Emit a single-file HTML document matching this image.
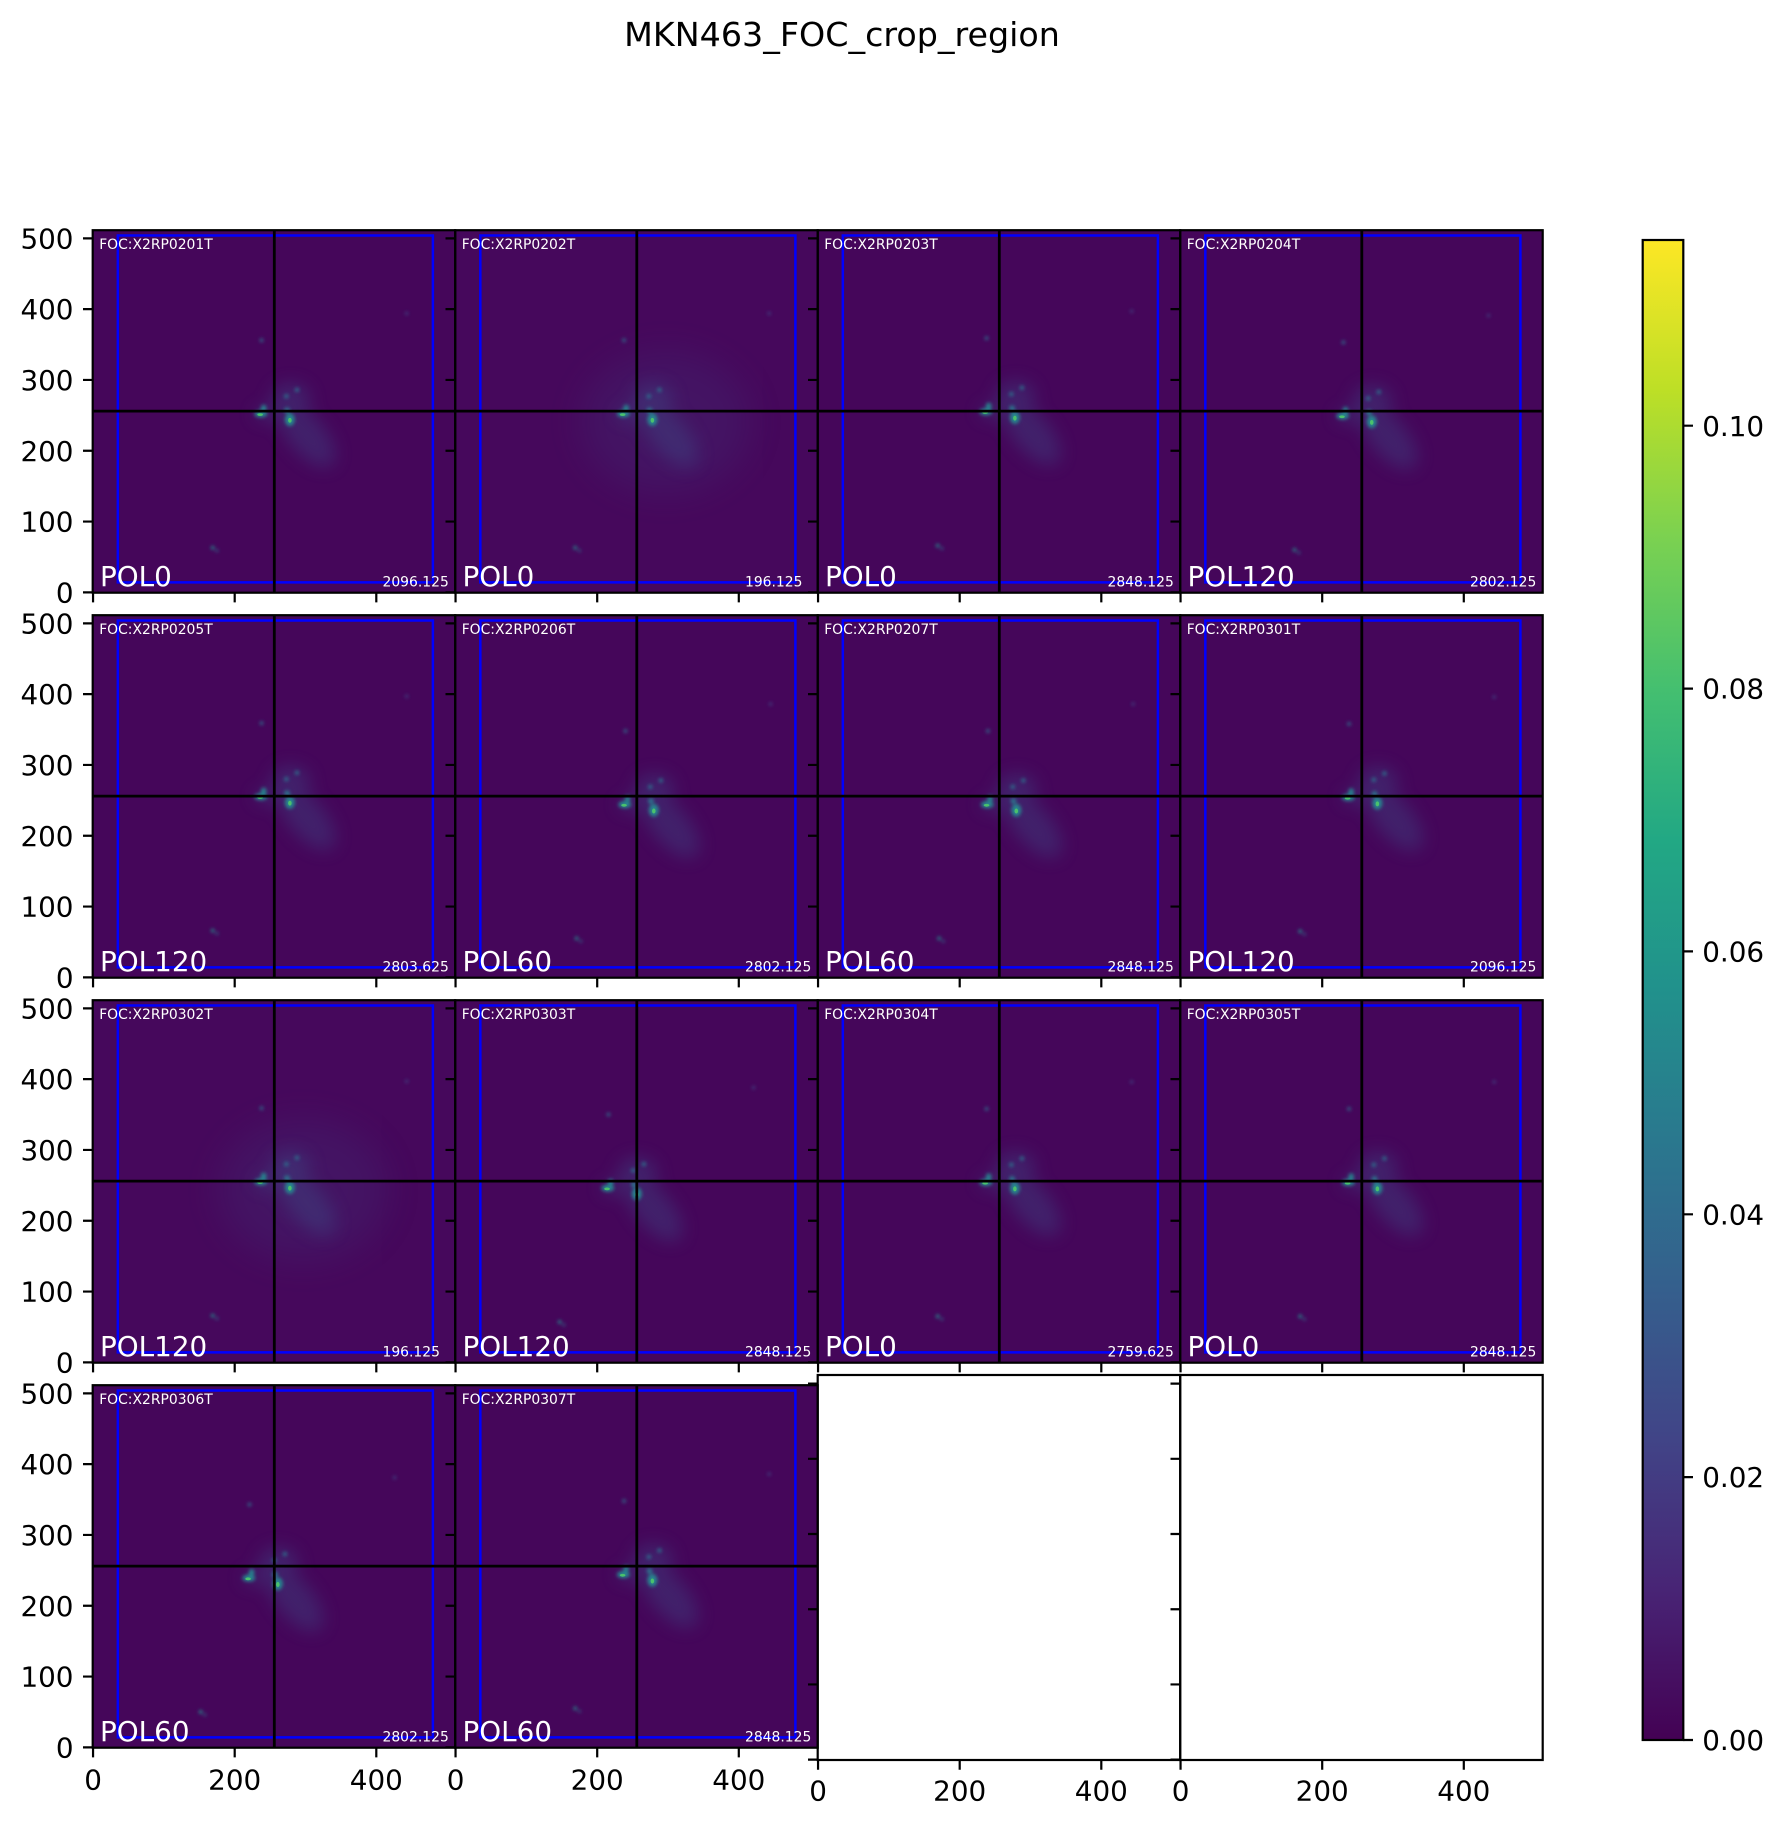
<!DOCTYPE html>
<html>
<head>
<meta charset="utf-8">
<style>
  html,body{margin:0;padding:0;background:#ffffff;}
  svg{display:block;}
  text{font-family:"DejaVu Sans","Liberation Sans",sans-serif;}
  .bl{fill:none;stroke:#0000ff;stroke-width:2.5px;vector-effect:non-scaling-stroke;}
  .ch{fill:none;stroke:#000;stroke-width:2.8px;vector-effect:non-scaling-stroke;}
  .sp{fill:none;stroke:#000;stroke-width:2.2px;}
  .s{fill:#ffffff;font-size:13.9px;}
  .p{fill:#ffffff;font-size:27.8px;}
  .t{fill:#000;font-size:27.8px;}
  .ty{fill:#000;font-size:27.8px;text-anchor:end;}
  .tx{fill:#000;font-size:27.8px;text-anchor:middle;}
</style>
</head>
<body>
<svg width="1784" height="1827" viewBox="0 0 1784 1827" xmlns="http://www.w3.org/2000/svg">
<defs>
  <clipPath id="cp" clipPathUnits="userSpaceOnUse"><rect x="-0.5" y="-0.5" width="512" height="512"/></clipPath>
  <filter id="bl8" x="-100%" y="-100%" width="300%" height="300%"><feGaussianBlur stdDeviation="12"/></filter>
  <filter id="bl3" x="-100%" y="-100%" width="300%" height="300%"><feGaussianBlur stdDeviation="2.5"/></filter>
  <filter id="bl20" x="-100%" y="-100%" width="300%" height="300%"><feGaussianBlur stdDeviation="25"/></filter>
  <linearGradient id="vir" x1="0" y1="1" x2="0" y2="0">
    <stop offset="0" stop-color="#440154"/>
    <stop offset="0.1" stop-color="#482475"/>
    <stop offset="0.2" stop-color="#414487"/>
    <stop offset="0.3" stop-color="#355f8d"/>
    <stop offset="0.4" stop-color="#2a788e"/>
    <stop offset="0.5" stop-color="#21918c"/>
    <stop offset="0.6" stop-color="#22a884"/>
    <stop offset="0.7" stop-color="#44bf70"/>
    <stop offset="0.8" stop-color="#7ad151"/>
    <stop offset="0.9" stop-color="#bddf26"/>
    <stop offset="1" stop-color="#fde725"/>
  </linearGradient>
  <g id="gal">
    <g filter="url(#bl8)" fill="#3b528b" opacity="0.35">
      <ellipse cx="45" cy="-28" rx="55" ry="26" transform="rotate(-50 45 -28)"/>
      <ellipse cx="22" cy="24" rx="28" ry="22"/>
      <ellipse cx="-8" cy="2" rx="22" ry="10"/>
    </g>
    <g filter="url(#bl3)">
      <ellipse cx="-20" cy="2" rx="9" ry="5" fill="#25848e"/>
      <ellipse cx="-16" cy="10" rx="4" ry="5" fill="#25848e"/>
      <ellipse cx="21" cy="-6" rx="7" ry="9" fill="#25848e"/>
      <ellipse cx="17" cy="7" rx="4" ry="4" fill="#2a788e"/>
      <circle cx="16" cy="27" r="3" fill="#2c728e"/>
      <circle cx="31" cy="36" r="3" fill="#2c728e"/>
      <circle cx="-19" cy="106" r="2.5" fill="#2c728e"/>
      <circle cx="-88" cy="-187" r="2.5" fill="#21918c"/>
      <circle cx="-82" cy="-191" r="1.8" fill="#2c728e"/>
      <circle cx="186" cy="144" r="2" fill="#3b528b"/>
    </g>
    <ellipse cx="-21" cy="1" rx="4" ry="2" fill="#4ac16d"/>
    <ellipse cx="21" cy="-7" rx="2.5" ry="3.5" fill="#4ac16d"/>
  </g>
  <g id="glow">
    <ellipse cx="40" cy="-10" rx="120" ry="100" fill="#3b528b" opacity="0.16" filter="url(#bl20)"/>
  </g>
  <path id="tk" d="M-9.7 -0.35H0M-9.7 -71.16H0M-9.7 -141.96H0M-9.7 -212.76H0M-9.7 -283.56H0M-9.7 -354.36H0M0.35 0V9.7M142 0V9.7M283.6 0V9.7" stroke="#000" stroke-width="2.2" fill="none"/>
  <path id="tke" d="M-9.7 -0.38H0M-9.7 -75.58H0M-9.7 -150.78H0M-9.7 -225.98H0M-9.7 -301.18H0M-9.7 -376.38H0M0.35 0V9.7M142 0V9.7M283.6 0V9.7" stroke="#000" stroke-width="2.2" fill="none"/>
</defs>

<rect x="0" y="0" width="1784" height="1827" fill="#ffffff"/>

<!-- Title -->
<text x="842" y="46" font-size="33.3" text-anchor="middle" fill="#000">MKN463_FOC_crop_region</text>

<!-- ===== Row 1 ===== -->
<g transform="translate(92.7 592.7) scale(0.70801 -0.70801) translate(0.5 0.5)"><g clip-path="url(#cp)">
  <rect x="-0.5" y="-0.5" width="512" height="512" fill="#45065a"/>
  <use href="#gal" transform="translate(257 250)"/>
  <rect x="35" y="14" width="445" height="490" class="bl"/>
  <path d="M256 -2V514M-2 256H514" class="ch"/>
</g></g>
<g transform="translate(455.2 592.7) scale(0.70801 -0.70801) translate(0.5 0.5)"><g clip-path="url(#cp)">
  <rect x="-0.5" y="-0.5" width="512" height="512" fill="#46085c"/>
  <use href="#glow" transform="translate(257 250)"/>
  <use href="#gal" transform="translate(257 250)"/>
  <rect x="35" y="14" width="445" height="490" class="bl"/>
  <path d="M256 -2V514M-2 256H514" class="ch"/>
</g></g>
<g transform="translate(817.7 592.7) scale(0.70801 -0.70801) translate(0.5 0.5)"><g clip-path="url(#cp)">
  <rect x="-0.5" y="-0.5" width="512" height="512" fill="#45065a"/>
  <use href="#gal" transform="translate(257 253)"/>
  <rect x="35" y="14" width="445" height="490" class="bl"/>
  <path d="M256 -2V514M-2 256H514" class="ch"/>
</g></g>
<g transform="translate(1180.2 592.7) scale(0.70801 -0.70801) translate(0.5 0.5)"><g clip-path="url(#cp)">
  <rect x="-0.5" y="-0.5" width="512" height="512" fill="#45065a"/>
  <use href="#gal" transform="translate(249 247)"/>
  <rect x="35" y="14" width="445" height="490" class="bl"/>
  <path d="M256 -2V514M-2 256H514" class="ch"/>
</g></g>

<!-- ===== Row 2 ===== -->
<g transform="translate(92.7 977.7) scale(0.70801 -0.70801) translate(0.5 0.5)"><g clip-path="url(#cp)">
  <rect x="-0.5" y="-0.5" width="512" height="512" fill="#45065a"/>
  <use href="#gal" transform="translate(257 253)"/>
  <rect x="35" y="14" width="445" height="490" class="bl"/>
  <path d="M256 -2V514M-2 256H514" class="ch"/>
</g></g>
<g transform="translate(455.2 977.7) scale(0.70801 -0.70801) translate(0.5 0.5)"><g clip-path="url(#cp)">
  <rect x="-0.5" y="-0.5" width="512" height="512" fill="#45065a"/>
  <use href="#gal" transform="translate(259 242)"/>
  <rect x="35" y="14" width="445" height="490" class="bl"/>
  <path d="M256 -2V514M-2 256H514" class="ch"/>
</g></g>
<g transform="translate(817.7 977.7) scale(0.70801 -0.70801) translate(0.5 0.5)"><g clip-path="url(#cp)">
  <rect x="-0.5" y="-0.5" width="512" height="512" fill="#45065a"/>
  <use href="#gal" transform="translate(259 242)"/>
  <rect x="35" y="14" width="445" height="490" class="bl"/>
  <path d="M256 -2V514M-2 256H514" class="ch"/>
</g></g>
<g transform="translate(1180.2 977.7) scale(0.70801 -0.70801) translate(0.5 0.5)"><g clip-path="url(#cp)">
  <rect x="-0.5" y="-0.5" width="512" height="512" fill="#45065a"/>
  <use href="#gal" transform="translate(257 252)"/>
  <rect x="35" y="14" width="445" height="490" class="bl"/>
  <path d="M256 -2V514M-2 256H514" class="ch"/>
</g></g>

<!-- ===== Row 3 ===== -->
<g transform="translate(92.7 1362.7) scale(0.70801 -0.70801) translate(0.5 0.5)"><g clip-path="url(#cp)">
  <rect x="-0.5" y="-0.5" width="512" height="512" fill="#46085c"/>
  <use href="#glow" transform="translate(257 253)"/>
  <use href="#gal" transform="translate(257 253)"/>
  <rect x="35" y="14" width="445" height="490" class="bl"/>
  <path d="M256 -2V514M-2 256H514" class="ch"/>
</g></g>
<g transform="translate(455.2 1362.7) scale(0.70801 -0.70801) translate(0.5 0.5)"><g clip-path="url(#cp)">
  <rect x="-0.5" y="-0.5" width="512" height="512" fill="#45065a"/>
  <use href="#gal" transform="translate(235 244)"/>
  <rect x="35" y="14" width="445" height="490" class="bl"/>
  <path d="M256 -2V514M-2 256H514" class="ch"/>
</g></g>
<g transform="translate(817.7 1362.7) scale(0.70801 -0.70801) translate(0.5 0.5)"><g clip-path="url(#cp)">
  <rect x="-0.5" y="-0.5" width="512" height="512" fill="#45065a"/>
  <use href="#gal" transform="translate(257 252)"/>
  <rect x="35" y="14" width="445" height="490" class="bl"/>
  <path d="M256 -2V514M-2 256H514" class="ch"/>
</g></g>
<g transform="translate(1180.2 1362.7) scale(0.70801 -0.70801) translate(0.5 0.5)"><g clip-path="url(#cp)">
  <rect x="-0.5" y="-0.5" width="512" height="512" fill="#45065a"/>
  <use href="#gal" transform="translate(257 252)"/>
  <rect x="35" y="14" width="445" height="490" class="bl"/>
  <path d="M256 -2V514M-2 256H514" class="ch"/>
</g></g>

<!-- ===== Row 4 ===== -->
<g transform="translate(92.7 1747.7) scale(0.70801 -0.70801) translate(0.5 0.5)"><g clip-path="url(#cp)">
  <rect x="-0.5" y="-0.5" width="512" height="512" fill="#45065a"/>
  <use href="#gal" transform="translate(240 237)"/>
  <rect x="35" y="14" width="445" height="490" class="bl"/>
  <path d="M256 -2V514M-2 256H514" class="ch"/>
</g></g>
<g transform="translate(455.2 1747.7) scale(0.70801 -0.70801) translate(0.5 0.5)"><g clip-path="url(#cp)">
  <rect x="-0.5" y="-0.5" width="512" height="512" fill="#45065a"/>
  <use href="#gal" transform="translate(257 242)"/>
  <rect x="35" y="14" width="445" height="490" class="bl"/>
  <path d="M256 -2V514M-2 256H514" class="ch"/>
</g></g>

<!-- Empty panels -->
<rect x="817.7" y="1375" width="362.5" height="385" fill="#ffffff"/>
<rect x="1180.2" y="1375" width="362.5" height="385" fill="#ffffff"/>

<!-- Ticks -->
<use href="#tk" transform="translate(92.7 592.7)"/>
<use href="#tk" transform="translate(455.2 592.7)"/>
<use href="#tk" transform="translate(817.7 592.7)"/>
<use href="#tk" transform="translate(1180.2 592.7)"/>
<use href="#tk" transform="translate(92.7 977.7)"/>
<use href="#tk" transform="translate(455.2 977.7)"/>
<use href="#tk" transform="translate(817.7 977.7)"/>
<use href="#tk" transform="translate(1180.2 977.7)"/>
<use href="#tk" transform="translate(92.7 1362.7)"/>
<use href="#tk" transform="translate(455.2 1362.7)"/>
<use href="#tk" transform="translate(817.7 1362.7)"/>
<use href="#tk" transform="translate(1180.2 1362.7)"/>
<use href="#tk" transform="translate(92.7 1747.7)"/>
<use href="#tk" transform="translate(455.2 1747.7)"/>
<use href="#tke" transform="translate(817.7 1760)"/>
<use href="#tke" transform="translate(1180.2 1760)"/>

<!-- Spines -->
<rect class="sp" x="92.7" y="230.2" width="362.5" height="362.5"/>
<rect class="sp" x="455.2" y="230.2" width="362.5" height="362.5"/>
<rect class="sp" x="817.7" y="230.2" width="362.5" height="362.5"/>
<rect class="sp" x="1180.2" y="230.2" width="362.5" height="362.5"/>
<rect class="sp" x="92.7" y="615.2" width="362.5" height="362.5"/>
<rect class="sp" x="455.2" y="615.2" width="362.5" height="362.5"/>
<rect class="sp" x="817.7" y="615.2" width="362.5" height="362.5"/>
<rect class="sp" x="1180.2" y="615.2" width="362.5" height="362.5"/>
<rect class="sp" x="92.7" y="1000.2" width="362.5" height="362.5"/>
<rect class="sp" x="455.2" y="1000.2" width="362.5" height="362.5"/>
<rect class="sp" x="817.7" y="1000.2" width="362.5" height="362.5"/>
<rect class="sp" x="1180.2" y="1000.2" width="362.5" height="362.5"/>
<rect class="sp" x="92.7" y="1385.2" width="362.5" height="362.5"/>
<rect class="sp" x="455.2" y="1385.2" width="362.5" height="362.5"/>
<rect class="sp" x="817.7" y="1375" width="362.5" height="385"/>
<rect class="sp" x="1180.2" y="1375" width="362.5" height="385"/>

<!-- Panel texts: Row 1 -->
<text class="s" x="99.2" y="249">FOC:X2RP0201T</text>
<text class="p" x="100" y="586">POL0</text>
<text class="s" x="382.5" y="586.7">2096.125</text>

<text class="s" x="461.7" y="249">FOC:X2RP0202T</text>
<text class="p" x="462.5" y="586">POL0</text>
<text class="s" x="745" y="586.7">196.125</text>

<text class="s" x="824.2" y="249">FOC:X2RP0203T</text>
<text class="p" x="825" y="586">POL0</text>
<text class="s" x="1107.5" y="586.7">2848.125</text>

<text class="s" x="1186.7" y="249">FOC:X2RP0204T</text>
<text class="p" x="1187.5" y="586">POL120</text>
<text class="s" x="1470" y="586.7">2802.125</text>

<!-- Row 2 -->
<text class="s" x="99.2" y="634">FOC:X2RP0205T</text>
<text class="p" x="100" y="971">POL120</text>
<text class="s" x="382.5" y="971.7">2803.625</text>

<text class="s" x="461.7" y="634">FOC:X2RP0206T</text>
<text class="p" x="462.5" y="971">POL60</text>
<text class="s" x="745" y="971.7">2802.125</text>

<text class="s" x="824.2" y="634">FOC:X2RP0207T</text>
<text class="p" x="825" y="971">POL60</text>
<text class="s" x="1107.5" y="971.7">2848.125</text>

<text class="s" x="1186.7" y="634">FOC:X2RP0301T</text>
<text class="p" x="1187.5" y="971">POL120</text>
<text class="s" x="1470" y="971.7">2096.125</text>

<!-- Row 3 -->
<text class="s" x="99.2" y="1019">FOC:X2RP0302T</text>
<text class="p" x="100" y="1356">POL120</text>
<text class="s" x="382.5" y="1356.7">196.125</text>

<text class="s" x="461.7" y="1019">FOC:X2RP0303T</text>
<text class="p" x="462.5" y="1356">POL120</text>
<text class="s" x="745" y="1356.7">2848.125</text>

<text class="s" x="824.2" y="1019">FOC:X2RP0304T</text>
<text class="p" x="825" y="1356">POL0</text>
<text class="s" x="1107.5" y="1356.7">2759.625</text>

<text class="s" x="1186.7" y="1019">FOC:X2RP0305T</text>
<text class="p" x="1187.5" y="1356">POL0</text>
<text class="s" x="1470" y="1356.7">2848.125</text>

<!-- Row 4 -->
<text class="s" x="99.2" y="1404">FOC:X2RP0306T</text>
<text class="p" x="100" y="1741">POL60</text>
<text class="s" x="382.5" y="1741.7">2802.125</text>

<text class="s" x="461.7" y="1404">FOC:X2RP0307T</text>
<text class="p" x="462.5" y="1741">POL60</text>
<text class="s" x="745" y="1741.7">2848.125</text>

<!-- Y tick labels -->
<text class="ty" x="73.5" y="602.45">0</text>
<text class="ty" x="73.5" y="531.64">100</text>
<text class="ty" x="73.5" y="460.84">200</text>
<text class="ty" x="73.5" y="390.04">300</text>
<text class="ty" x="73.5" y="319.24">400</text>
<text class="ty" x="73.5" y="248.44">500</text>

<text class="ty" x="73.5" y="987.45">0</text>
<text class="ty" x="73.5" y="916.64">100</text>
<text class="ty" x="73.5" y="845.84">200</text>
<text class="ty" x="73.5" y="775.04">300</text>
<text class="ty" x="73.5" y="704.24">400</text>
<text class="ty" x="73.5" y="633.44">500</text>

<text class="ty" x="73.5" y="1372.45">0</text>
<text class="ty" x="73.5" y="1301.64">100</text>
<text class="ty" x="73.5" y="1230.84">200</text>
<text class="ty" x="73.5" y="1160.04">300</text>
<text class="ty" x="73.5" y="1089.24">400</text>
<text class="ty" x="73.5" y="1018.44">500</text>

<text class="ty" x="73.5" y="1757.45">0</text>
<text class="ty" x="73.5" y="1686.64">100</text>
<text class="ty" x="73.5" y="1615.84">200</text>
<text class="ty" x="73.5" y="1545.04">300</text>
<text class="ty" x="73.5" y="1474.24">400</text>
<text class="ty" x="73.5" y="1403.44">500</text>

<!-- X tick labels -->
<text class="tx" x="93.05" y="1789.3">0</text>
<text class="tx" x="234.7" y="1789.3">200</text>
<text class="tx" x="376.3" y="1789.3">400</text>
<text class="tx" x="455.55" y="1789.3">0</text>
<text class="tx" x="597.2" y="1789.3">200</text>
<text class="tx" x="738.8" y="1789.3">400</text>
<text class="tx" x="818.05" y="1800.7">0</text>
<text class="tx" x="959.7" y="1800.7">200</text>
<text class="tx" x="1101.3" y="1800.7">400</text>
<text class="tx" x="1180.55" y="1800.7">0</text>
<text class="tx" x="1322.2" y="1800.7">200</text>
<text class="tx" x="1463.8" y="1800.7">400</text>

<!-- Colorbar -->
<rect x="1642.7" y="240" width="40.6" height="1500" fill="url(#vir)"/>
<rect x="1642.7" y="240" width="40.6" height="1500" fill="none" stroke="#000" stroke-width="2.2"/>
<path d="M1683.3 1740H1693M1683.3 1477.1H1693M1683.3 1214.3H1693M1683.3 951.4H1693M1683.3 688.6H1693M1683.3 425.7H1693" stroke="#000" stroke-width="2.2"/>
<text class="t" x="1702.2" y="1750.1">0.00</text>
<text class="t" x="1702.2" y="1487.2">0.02</text>
<text class="t" x="1702.2" y="1224.4">0.04</text>
<text class="t" x="1702.2" y="961.5">0.06</text>
<text class="t" x="1702.2" y="698.7">0.08</text>
<text class="t" x="1702.2" y="435.8">0.10</text>
</svg>
</body>
</html>
